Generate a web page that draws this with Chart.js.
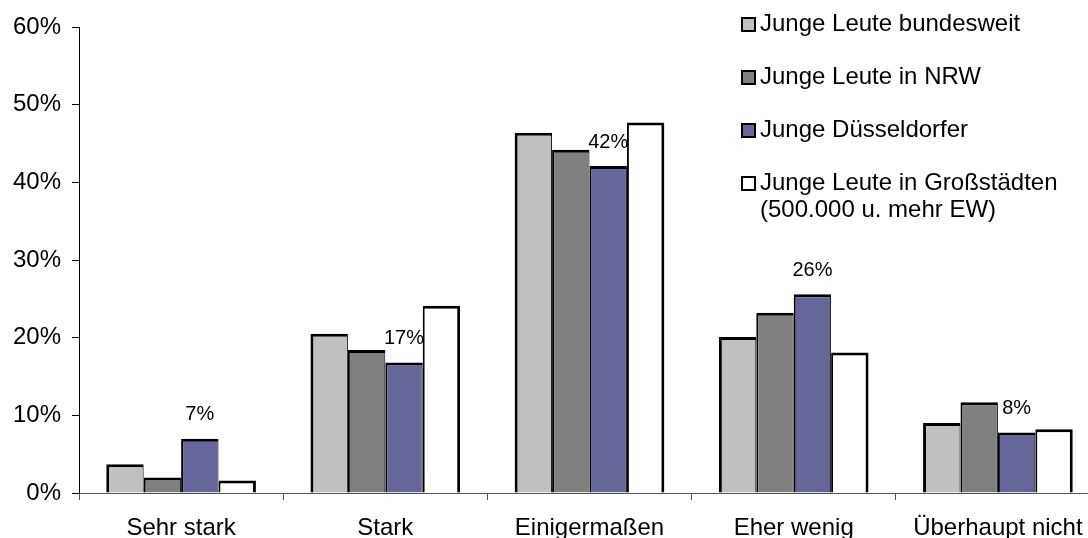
<!DOCTYPE html>
<html>
<head>
<meta charset="utf-8">
<script src="https://cdn.jsdelivr.net/npm/chart.js@4/dist/chart.umd.min.js"></script>
<style>
  html, body { margin: 0; padding: 0; background: #fff; overflow: hidden; }
  #wrap { width: 1088px; height: 538px; overflow: hidden; }
</style>
</head>
<body>
<div id="wrap"><canvas id="chart" width="1112" height="538"></canvas></div>
<script>
const categories = ["Sehr stark", "Stark", "Einigermaßen", "Eher wenig", "Überhaupt nicht"];
const seriesNames = [
    "Junge Leute bundesweit",
    "Junge Leute in NRW",
    "Junge Düsseldorfer",
    ["Junge Leute in Großstädten", "(500.000 u. mehr EW)"]
];
const bundesweit = [3.7, 20.5, 46.4, 20.1, 9.0];
const nrw = [2.0, 18.4, 44.2, 23.2, 11.7];
const duesseldorf = [7.0, 16.8, 42.1, 25.6, 7.8];
const grossstaedte = [1.6, 24.1, 47.7, 18.1, 8.2];
const yTicks = [0, 10, 20, 30, 40, 50, 60];
const colors = ["#c0c0c0", "#808080", "#666699", "#ffffff"];

const FONT = "'Liberation Sans', Arial, sans-serif";

// neighbouring bars share their edge line, outer edges of the group get the full width
const edges = [
    { left: 3, right: 1, top: 3, bottom: 0 },
    { left: 2, right: 1, top: 3, bottom: 0 },
    { left: 2, right: 1, top: 3, bottom: 0 },
    { left: 2, right: 3, top: 3, bottom: 0 }
];

const allSeries = [bundesweit, nrw, duesseldorf, grossstaedte];

// value labels above the Düsseldorf bars
const valueLabels = {
    id: "valueLabels",
    afterDatasetsDraw(chart) {
        const ctx = chart.ctx;
        const meta = chart.getDatasetMeta(2);
        ctx.save();
        ctx.font = "20px " + FONT;
        ctx.fillStyle = "#000";
        ctx.textAlign = "center";
        ctx.textBaseline = "middle";
        meta.data.forEach((bar, i) => {
            ctx.fillText(Math.round(duesseldorf[i]) + "%", bar.x, bar.y - 24);
        });
        ctx.restore();
    }
};

// legend in the upper right corner
const sideLegend = {
    id: "sideLegend",
    afterDraw(chart) {
        const ctx = chart.ctx;
        const boxX = 741, textX = 760, rowY = [24, 77, 130, 183], lineGap = 27;
        ctx.save();
        ctx.font = "24px " + FONT;
        ctx.textBaseline = "middle";
        ctx.textAlign = "left";
        chart.data.datasets.forEach((ds, i) => {
            const y = rowY[i];
            ctx.fillStyle = ds.backgroundColor;
            ctx.fillRect(boxX, y - 7, 15, 15);
            ctx.lineWidth = 2;
            ctx.strokeStyle = "#000";
            ctx.strokeRect(boxX + 1, y - 6, 13, 13);
            ctx.fillStyle = "#000";
            const lines = Array.isArray(ds.label) ? ds.label : [ds.label];
            lines.forEach((t, k) => ctx.fillText(t, textX, y + k * lineGap));
        });
        ctx.restore();
    }
};

const chart = new Chart(document.getElementById("chart"), {
    type: "bar",
    data: {
        labels: categories,
        datasets: allSeries.map((vals, i) => ({
            label: seriesNames[i],
            data: vals,
            backgroundColor: colors[i],
            borderColor: "#000",
            borderWidth: edges[i],
            borderSkipped: false,
            categoryPercentage: 0.733,
            barPercentage: 1.0
        }))
    },
    options: {
        responsive: false,
        animation: false,
        devicePixelRatio: 1,
        layout: { padding: { top: 27, right: 12, bottom: 0, left: 0 } },
        plugins: {
            legend: { display: false },
            tooltip: { enabled: false }
        },
        scales: {
            x: {
                grid: {
                    offset: true,
                    drawOnChartArea: false,
                    drawTicks: true,
                    tickLength: 7,
                    color: "#555"
                },
                border: { display: true, color: "#555", width: 1 },
                ticks: {
                    autoSkip: false,
                    maxRotation: 0,
                    padding: 14,
                    color: "#000",
                    font: { family: FONT, size: 24 }
                },
                afterFit(scale) { scale.height = 45; }
            },
            y: {
                min: 0,
                max: 60,
                afterBuildTicks(scale) {
                    scale.ticks = yTicks.map(v => ({ value: v }));
                },
                grid: {
                    drawOnChartArea: false,
                    drawTicks: true,
                    tickLength: 7,
                    color: "#000"
                },
                border: { display: true, color: "#000", width: 1 },
                ticks: {
                    padding: 11,
                    color: "#000",
                    font: { family: FONT, size: 24 },
                    callback: v => v + "%"
                },
                afterFit(scale) { scale.width = 79; }
            }
        }
    },
    plugins: [valueLabels, sideLegend]
});
</script>
</body>
</html>
